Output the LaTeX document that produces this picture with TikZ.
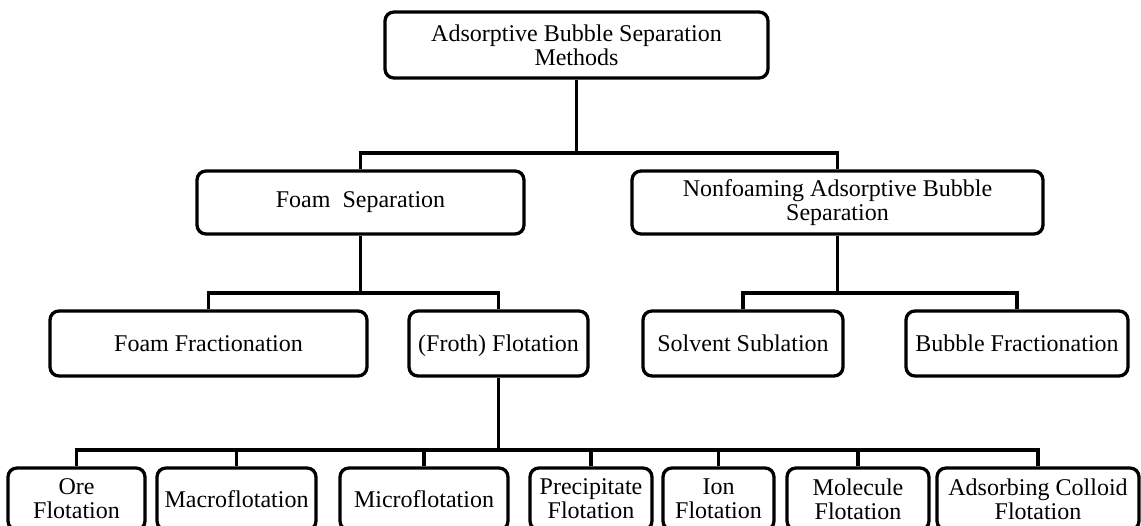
\documentclass[tikz,border=0pt]{standalone}
\usepackage{fontspec}
\setmainfont{Liberation Serif}

\begin{document}
\begin{tikzpicture}[x=1pt, y=-1pt, line width=3.3pt,
        box/.style={draw, rounded corners=9pt, align=center, inner sep=0pt,
            font=\fontsize{24}{24}\selectfont},
        link/.style={line width=3.3pt}]
        \useasboundingbox (0,0) rectangle (1141,526);

        % levels 0 and 1
        \node (top) [box, minimum width=383pt, minimum height=66pt] at (576.5,45) {Adsorptive Bubble Separation\\Methods};
        \node (fs) [box, minimum width=327pt, minimum height=63pt] at (360.5,202.5) {Foam\ \ Separation};
        \node (nf) [box, minimum width=411pt, minimum height=63pt] at (837.5,202.5) {Nonfoaming Adsorptive Bubble\\Separation};

        % level 2
        \node (ff) [box, minimum width=317pt, minimum height=65pt] at (208.5,343.5) {Foam Fractionation};
        \node (fr) [box, minimum width=179pt, minimum height=65pt, text depth=0pt] at (498.5,343.5) {(Froth) Flotation};
        \node (ss) [box, minimum width=200pt, minimum height=65pt] at (743,343.5) {Solvent Sublation};
        \node (bf) [box, minimum width=222pt, minimum height=65pt] at (1017,343.5) {Bubble Fractionation};

        % level 3
        \node (ore) [box, minimum width=137pt, minimum height=62pt] at (76.5,499) {Ore\\Flotation};
        \node (mac) [box, minimum width=159pt, minimum height=62pt] at (236.5,499) {Macroflotation};
        \node (mic) [box, minimum width=168pt, minimum height=62pt] at (424,499) {Microflotation};
        \node (pre) [box, minimum width=122pt, minimum height=62pt] at (591,499) {Precipitate\\Flotation};
        \node (ion) [box, minimum width=111pt, minimum height=62pt] at (718.5,499) {Ion\\Flotation};
        \node (mol) [box, minimum width=142pt, minimum height=62pt] at (858,499) {Molecule\\Flotation};
        \node (ads) [box, minimum width=202pt, minimum height=62pt] at (1038,499) {Adsorbing Colloid\\Flotation};

        \coordinate (b1) at (0,153);
        \coordinate (b2) at (0,293);
        \coordinate (b3) at (0,450);

        \draw[link] (top.south) -- (top.south |- b1);
        \draw[link] (fs.north) |- (b1 -| nf.north) -- (nf.north);

        \draw[link] (fs.south) -- (fs.south |- b2);
        \draw[link] (ff.north) |- (b2 -| fr.north) -- (fr.north);
        \draw[link] (nf.south) -- (nf.south |- b2);
        \draw[link] (ss.north) |- (b2 -| bf.north) -- (bf.north);

        \draw[link] (fr.south) -- (fr.south |- b3);
        \draw[link] (ore.north) |- (b3 -| ads.north) -- (ads.north);
        \foreach \n in {mac, mic, pre, ion, mol}
            \draw[link] (\n.north) -- (\n.north |- b3);
\end{tikzpicture}
\end{document}
